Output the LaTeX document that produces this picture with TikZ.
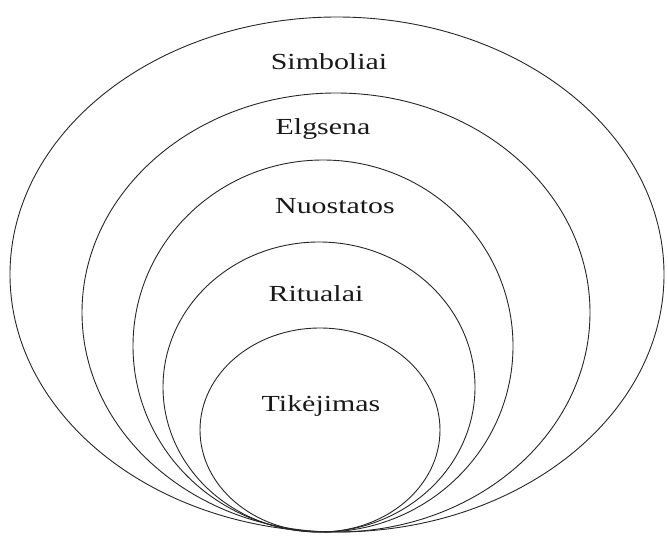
\documentclass[tikz,border=0pt]{standalone}
\usepackage{fontspec}
\setmainfont[FakeStretch=1.3]{Liberation Serif}
\begin{document}
\begin{tikzpicture}[x=1pt,y=-1pt,
  ring/.style={draw=black!85,line width=0.9pt},
  lbl/.style={font=\fontsize{23}{26}\selectfont,inner sep=0pt,text=black!90}]
\useasboundingbox (0,0) rectangle (668,535);
\draw[ring] (337,274.5) ellipse [x radius=327pt, y radius=257.5pt];
\draw[ring] (336,312.5) ellipse [x radius=254pt, y radius=219.5pt];
\draw[ring] (323,346) ellipse [x radius=190pt, y radius=186pt];
\draw[ring] (319,387) ellipse [x radius=156pt, y radius=145pt];
\draw[ring] (320,430) ellipse [x radius=120pt, y radius=102pt];
\node[lbl] (simb) at (329,62) {Simboliai};
\node[lbl] (elg) at (323,129) {Elgsena};
\node[lbl] (nuo) at (335,206) {Nuostatos};
\node[lbl] (rit) at (316,294) {Ritualai};
\node[lbl] (tik) at (321,406) {Tikėjimas};
\end{tikzpicture}
\end{document}
